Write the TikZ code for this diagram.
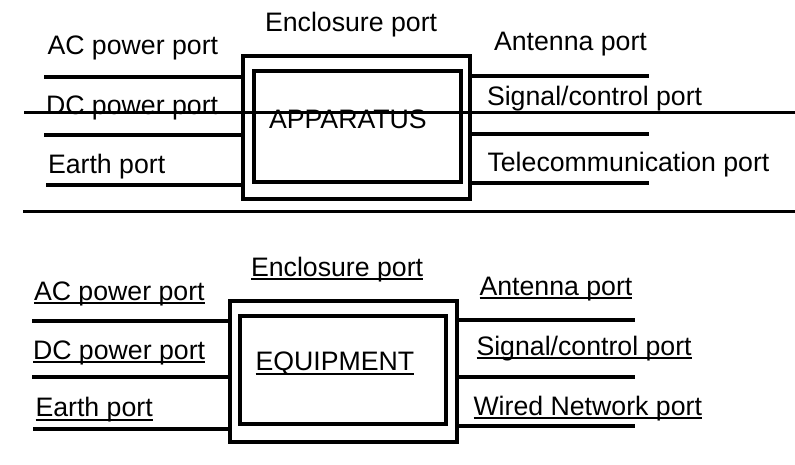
\documentclass[tikz,border=0pt]{standalone}
\usepackage{fontspec}
\setmainfont{Liberation Sans}
\begin{document}
\begin{tikzpicture}[x=1pt,y=-1pt,
  lbl/.style={anchor=base west,inner sep=0pt,outer sep=0pt,font=\fontsize{26.7}{30}\selectfont},
  boxline/.style={draw,line width=4pt,inner sep=0pt,outer sep=0pt,rectangle},
  portline/.style={line width=4pt},
  uline/.style={line width=2pt}]
\useasboundingbox (0,0) rectangle (795,464);
% ---------- top: APPARATUS ----------
\node[boxline,minimum width=227pt,minimum height=143pt] (oA) at (356.5,127.5) {};
\node[boxline,minimum width=206.5pt,minimum height=111pt] (iA) at (357.25,126.5) {};
\node[lbl] (encA) at (265,31) {Enclosure port};
\node[lbl] (acA) at (47.5,54.3) {AC power port};
\node[lbl] (dcA) at (46,114) {DC power port};
\node[lbl] (earthA) at (48,173.3) {Earth port};
\node[lbl] (appA) at (269,128.5) {APPARATUS};
\node[lbl] (antA) at (494,50) {Antenna port};
\node[lbl] (sigA) at (487,105.8) {Signal/control port};
\node[lbl] (telA) at (487.5,171.7) {Telecommunication port};
\coordinate (pA1) at (44,77);
\coordinate (pA2) at (44,134.5);
\coordinate (pA3) at (46,185.3);
\coordinate (qA1) at (649,76);
\coordinate (qA2) at (649,134);
\coordinate (qA3) at (649,183);
\draw[portline] (pA1) -- (pA1 -| oA.west);
\draw[portline] (pA2) -- (pA2 -| oA.west);
\draw[portline] (pA3) -- (pA3 -| oA.west);
\draw[portline] (qA1 -| oA.east) -- (qA1);
\draw[portline] (qA2 -| oA.east) -- (qA2);
\draw[portline] (qA3 -| oA.east) -- (qA3);
\coordinate (sL) at (24,112.3);
\coordinate (sR) at (796,112.3);
\draw[line width=3.5pt] (sL) -- (sR);
\coordinate (dL) at (23,211.3);
\coordinate (dR) at (796,211.3);
\draw[line width=2.6pt] (dL) -- (dR);
% ---------- bottom: EQUIPMENT ----------
\node[boxline,minimum width=226.7pt,minimum height=140.7pt] (oB) at (343.35,371.35) {};
\node[boxline,minimum width=205.5pt,minimum height=108.4pt] (iB) at (342.75,370) {};
\node[lbl] (encB) at (251,276) {Enclosure port};
\node[lbl] (acB) at (34,300) {AC power port};
\node[lbl] (dcB) at (33,359) {DC power port};
\node[lbl] (earthB) at (35.5,416.7) {Earth port};
\node[lbl] (eqB) at (255.5,370.7) {EQUIPMENT};
\node[lbl] (antB) at (479.5,295) {Antenna port};
\node[lbl] (sigB) at (476.5,355) {Signal/control port};
\node[lbl] (wirB) at (473.5,415) {Wired Network port};
\foreach \n in {encB,acB,dcB,earthB,eqB,antB,sigB,wirB}{
  \draw[uline] ([yshift=-3pt]\n.base west) -- ([yshift=-3pt]\n.base east);
}
\coordinate (pB1) at (32,320.8);
\coordinate (pB2) at (32.3,377.2);
\coordinate (pB3) at (33.3,428.8);
\coordinate (qB1) at (635,319.8);
\coordinate (qB2) at (635,376.5);
\coordinate (qB3) at (635,425.5);
\draw[portline] (pB1) -- (pB1 -| oB.west);
\draw[portline] (pB2) -- (pB2 -| oB.west);
\draw[portline] (pB3) -- (pB3 -| oB.west);
\draw[portline] (qB1 -| oB.east) -- (qB1);
\draw[portline] (qB2 -| oB.east) -- (qB2);
\draw[portline] (qB3 -| oB.east) -- (qB3);
\end{tikzpicture}
\end{document}
